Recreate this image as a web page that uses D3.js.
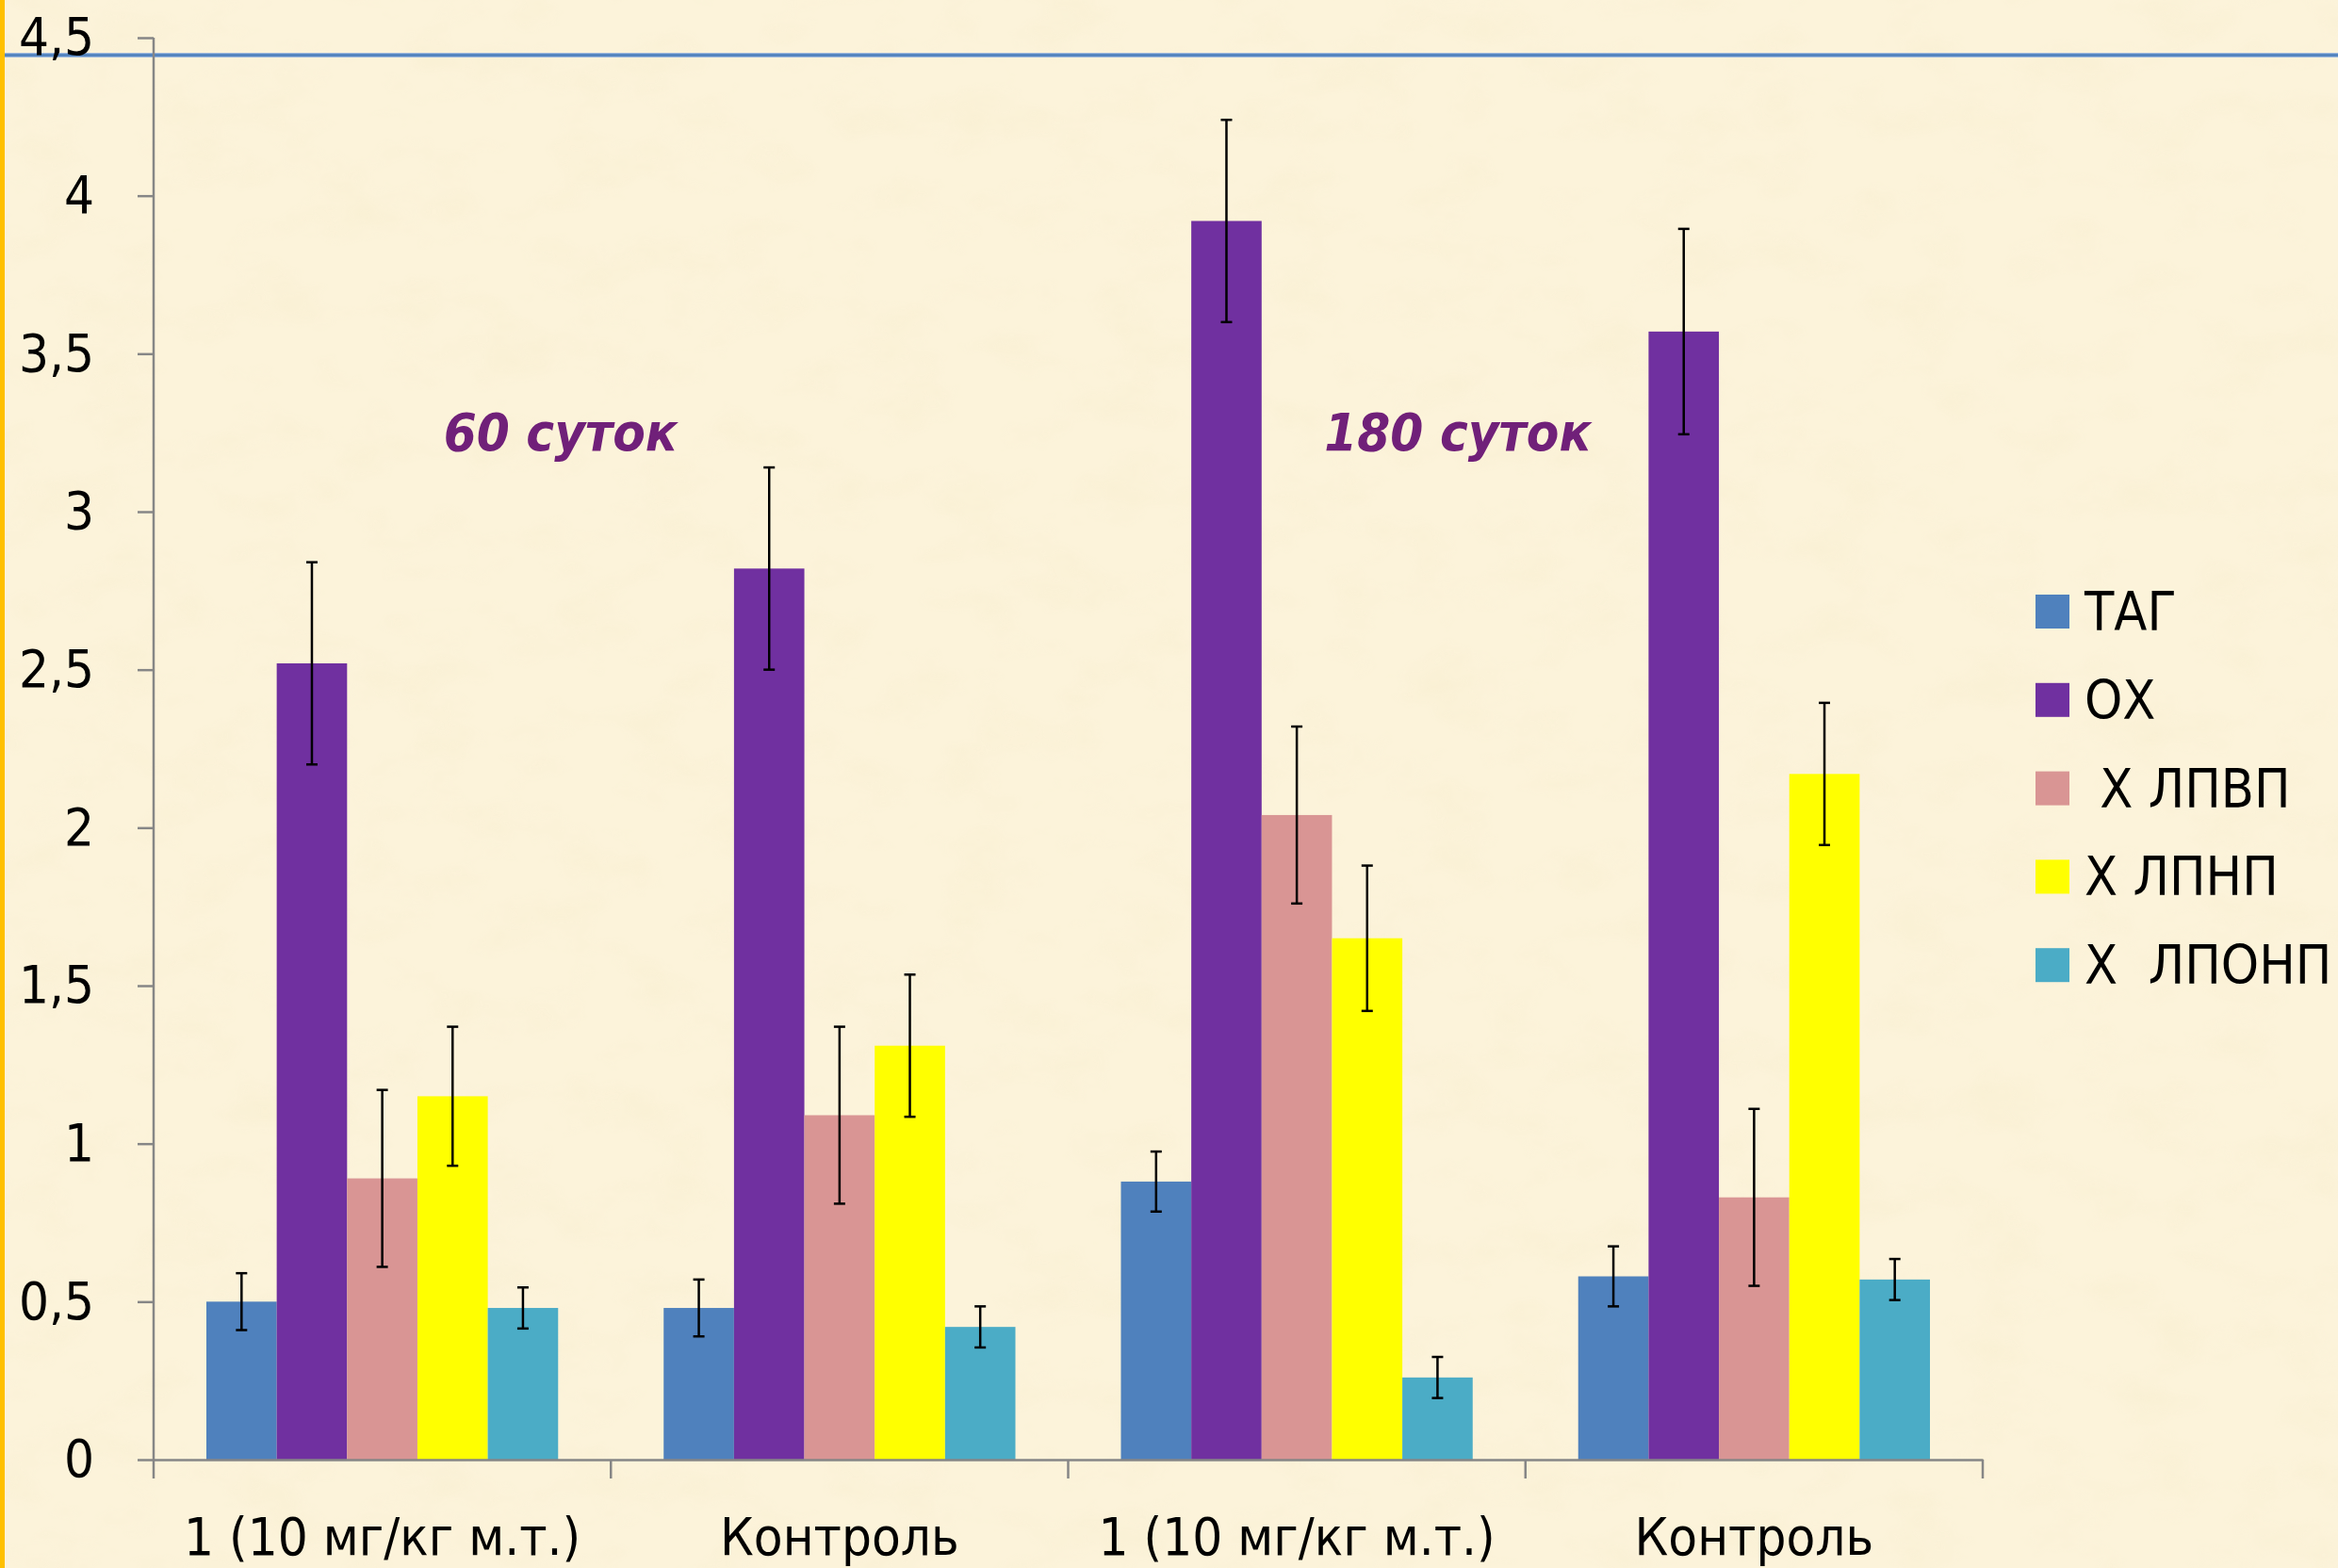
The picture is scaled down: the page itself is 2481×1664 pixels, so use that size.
<!DOCTYPE html>
<html>
<head>
<meta charset="utf-8">
<script src="https://cdn.jsdelivr.net/npm/d3@7"></script>
<style>
  html, body { margin: 0; padding: 0; background: #fbf1d6; }
  svg { display: block; }
</style>
</head>
<body>
<div id="chart"></div>
<script>
// данные
const groups = ['1 (10 мг/кг м.т.)', 'Контроль', '1 (10 мг/кг м.т.)', 'Контроль'];
const seriesNames = ['ТАГ', 'ОХ', ' Х ЛПВП', 'Х ЛПНП', 'Х  ЛПОНП'];
const seriesColors = ['#4f81bd', '#7030a0', '#d99594', '#ffff00', '#4bacc6'];

const tag   = [0.50, 0.48, 0.88, 0.58];
const ox    = [2.52, 2.82, 3.92, 3.57];
const lpvp  = [0.89, 1.09, 2.04, 0.83];
const lpnp  = [1.15, 1.31, 1.65, 2.17];
const lponp = [0.48, 0.42, 0.26, 0.57];

const tagErr   = [0.09, 0.09, 0.095, 0.095];
const oxErr    = [0.32, 0.32, 0.32, 0.325];
const lpvpErr  = [0.28, 0.28, 0.28, 0.28];
const lpnpErr  = [0.22, 0.225, 0.23, 0.225];
const lponpErr = [0.065, 0.065, 0.065, 0.065];

const yTicks = [0, 0.5, 1, 1.5, 2, 2.5, 3, 3.5, 4, 4.5];
const yTickLabels = ['0', '0,5', '1', '1,5', '2', '2,5', '3', '3,5', '4', '4,5'];

const periods = ['60 суток', '180 суток'];

const values = [tag, ox, lpvp, lpnp, lponp];
const errors = [tagErr, oxErr, lpvpErr, lpnpErr, lponpErr];

const width = 2481;
const height = 1664;
const font = '"Liberation Sans Narrow", "DejaVu Sans Condensed", "Open Sans", sans-serif';

const svg = d3.select('#chart')
    .append('svg')
    .attr('width', width)
    .attr('height', height);

// фон — пергамент
const defs = svg.append('defs');
const f = defs.append('filter').attr('id', 'paper')
    .attr('x', 0).attr('y', 0).attr('width', '100%').attr('height', '100%');
f.append('feTurbulence')
    .attr('type', 'fractalNoise')
    .attr('baseFrequency', '0.012 0.02')
    .attr('numOctaves', 4)
    .attr('seed', 7)
    .attr('result', 'noise');
f.append('feColorMatrix')
    .attr('in', 'noise')
    .attr('type', 'matrix')
    .attr('values', '0 0 0 0 0.93  0 0 0 0 0.85  0 0 0 0 0.62  0 0 0 1.6 -0.75');

svg.append('rect').attr('width', width).attr('height', height).attr('fill', '#fcf3da');
svg.append('rect').attr('width', width).attr('height', height).attr('filter', 'url(#paper)').attr('opacity', 0.6);

// золотая полоса слева и синяя линия сверху
svg.append('rect').attr('x', 0).attr('y', 0).attr('width', 5).attr('height', height).attr('fill', '#ffc000');
svg.append('line').attr('x1', 5).attr('x2', width).attr('y1', 58.5).attr('y2', 58.5)
    .attr('stroke', '#9bb7dc').attr('stroke-width', 5);
svg.append('line').attr('x1', 5).attr('x2', width).attr('y1', 58.5).attr('y2', 58.5)
    .attr('stroke', '#4a7ebb').attr('stroke-width', 2.5);

// шкалы
const x0 = d3.scaleBand()
    .domain(d3.range(groups.length))
    .range([163, 2104]);

const x1 = d3.scaleBand()
    .domain(d3.range(seriesNames.length))
    .range([0, x0.bandwidth()])
    .paddingOuter(0.75);

const y = d3.scaleLinear()
    .domain([0, 4.5])
    .range([1549, 40]);

// ось Y
const yAxis = svg.append('g')
    .attr('transform', 'translate(163,0)')
    .call(d3.axisLeft(y).tickValues(yTicks).tickSize(17).tickPadding(46)
        .tickFormat((d, i) => yTickLabels[i]));
yAxis.selectAll('line, path').attr('stroke', '#868686').attr('stroke-width', 2.5);
yAxis.select('.domain').attr('d', `M0,${y(4.5)}V${y(0)}`);
yAxis.selectAll('text')
    .attr('font-family', font)
    .attr('font-size', 56)
    .attr('fill', '#000');

// столбцы
const g = svg.append('g');
seriesNames.forEach((name, s) => {
  g.selectAll('rect.s' + s)
    .data(values[s])
    .enter()
    .append('rect')
    .attr('class', 's' + s)
    .attr('x', (d, i) => x0(i) + x1(s))
    .attr('y', d => y(d))
    .attr('width', x1.bandwidth())
    .attr('height', d => y(0) - y(d))
    .attr('fill', seriesColors[s]);
});

// планки погрешностей
seriesNames.forEach((name, s) => {
  const eb = g.selectAll('g.e' + s)
    .data(values[s])
    .enter()
    .append('g')
    .attr('class', 'e' + s)
    .attr('stroke', '#000')
    .attr('stroke-width', 2.5);
  const cx = (d, i) => x0(i) + x1(s) + x1.bandwidth() / 2;
  eb.append('line')
    .attr('x1', cx).attr('x2', cx)
    .attr('y1', (d, i) => y(d + errors[s][i]))
    .attr('y2', (d, i) => y(d - errors[s][i]));
  eb.append('line')
    .attr('x1', (d, i) => cx(d, i) - 6).attr('x2', (d, i) => cx(d, i) + 6)
    .attr('y1', (d, i) => y(d + errors[s][i]))
    .attr('y2', (d, i) => y(d + errors[s][i]));
  eb.append('line')
    .attr('x1', (d, i) => cx(d, i) - 6).attr('x2', (d, i) => cx(d, i) + 6)
    .attr('y1', (d, i) => y(d - errors[s][i]))
    .attr('y2', (d, i) => y(d - errors[s][i]));
});

// ось X
const xAxis = svg.append('g')
    .attr('transform', `translate(0,${y(0)})`)
    .call(d3.axisBottom(x0).tickSize(0).tickFormat(i => groups[i]));
xAxis.select('.domain').attr('stroke', '#868686').attr('stroke-width', 2.5);
xAxis.selectAll('text')
    .attr('y', 101)
    .attr('dy', 0)
    .attr('font-family', font)
    .attr('font-size', 56)
    .attr('fill', '#000');
// деления между категориями
xAxis.selectAll('line.sep')
    .data(d3.range(groups.length + 1))
    .enter()
    .append('line')
    .attr('class', 'sep')
    .attr('x1', i => i < groups.length ? x0(i) : x0.range()[1])
    .attr('x2', i => i < groups.length ? x0(i) : x0.range()[1])
    .attr('y1', 0).attr('y2', 20)
    .attr('stroke', '#868686').attr('stroke-width', 2.5);

// подписи периодов
const periodOffset = [0.89, 0.852];
svg.selectAll('text.period')
    .data(periods)
    .enter()
    .append('text')
    .attr('class', 'period')
    .attr('x', (d, i) => x0(i * 2) + x0.bandwidth() * periodOffset[i])
    .attr('y', 478)
    .attr('text-anchor', 'middle')
    .attr('font-family', font)
    .attr('font-weight', 'bold')
    .attr('font-style', 'italic')
    .attr('font-size', 56)
    .attr('fill', '#702079')
    .text(d => d);

// легенда
const legend = svg.append('g').attr('transform', 'translate(2160,649)');
const item = legend.selectAll('g')
    .data(seriesNames)
    .enter()
    .append('g')
    .attr('transform', (d, i) => `translate(0,${i * 93.8})`);
item.append('rect')
    .attr('x', 0).attr('y', -18)
    .attr('width', 36).attr('height', 36)
    .attr('fill', (d, i) => seriesColors[i]);
item.append('text')
    .attr('x', 52).attr('y', 0)
    .attr('dy', '0.35em')
    .attr('font-family', font)
    .attr('font-size', 57)
    .attr('fill', '#000')
    .style('white-space', 'pre')
    .text(d => d);
</script>
</body>
</html>
